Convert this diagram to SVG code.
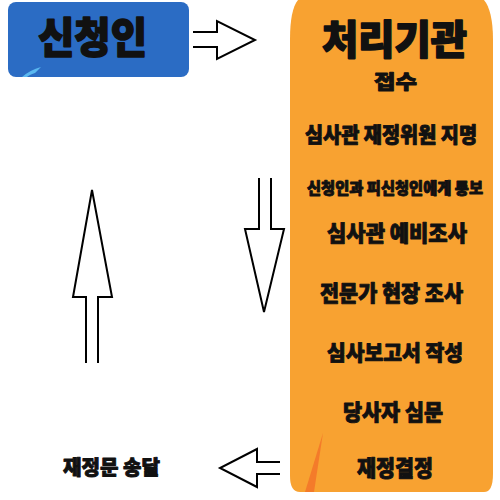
<svg xmlns="http://www.w3.org/2000/svg" width="500" height="500" viewBox="0 0 500 500">
<style>
.t{font-family:"Noto Sans CJK KR","Noto Sans",sans-serif;font-weight:900;fill:#111;stroke:#111;stroke-width:0.9;stroke-linejoin:round;text-anchor:middle}
.big{stroke-width:1.6}
.arr{fill:#fff;stroke:#000;stroke-width:2;stroke-linejoin:miter}
</style>
<rect width="500" height="500" fill="#fff"/>
<g id="applicant">
<rect x="8" y="2" width="181" height="75" rx="8" fill="#2b6cc4"/>
<path d="M22,77 Q30,70 41,67 L35,73 Q29,75 27,77 Z" fill="#5ab8f0"/>
<text class="t big" x="92.5" y="53" font-size="42" textLength="109" lengthAdjust="spacingAndGlyphs">신청인</text>
</g>
<g id="agency">
<path d="M300,492 Q290,492 290,476 L290,40 C290,18 293,4 300,-2 L482,-2 C489,4 493,18 493,40 L493,474 Q493,492 484,492 Z" fill="#f8a231"/>
<path d="M305,492 L323,433 L314,492 Z" fill="#f47b2a"/>
<text class="t big" x="394.5" y="54" font-size="40" textLength="145" lengthAdjust="spacingAndGlyphs">처리기관</text>
<text class="t" x="395.5" y="89" font-size="19" textLength="43" lengthAdjust="spacingAndGlyphs">접수</text>
<text class="t" x="391" y="142" font-size="21" textLength="172" lengthAdjust="spacingAndGlyphs">심사관 재정위원 지명</text>
<text class="t" x="395" y="194" font-size="16" textLength="176" lengthAdjust="spacingAndGlyphs">신청인과 피신청인에게 통보</text>
<text class="t" x="397" y="241" font-size="22" textLength="140" lengthAdjust="spacingAndGlyphs">심사관 예비조사</text>
<text class="t" x="391.5" y="301" font-size="22" textLength="143" lengthAdjust="spacingAndGlyphs">전문가 현장 조사</text>
<text class="t" x="395" y="360" font-size="21" textLength="136" lengthAdjust="spacingAndGlyphs">심사보고서 작성</text>
<text class="t" x="393" y="420" font-size="22" textLength="100" lengthAdjust="spacingAndGlyphs">당사자 심문</text>
<text class="t" x="395" y="476" font-size="22" textLength="76" lengthAdjust="spacingAndGlyphs">재정결정</text>
</g>
<g id="delivery">
<text class="t" x="111.5" y="475" font-size="20" textLength="97" lengthAdjust="spacingAndGlyphs">재정문 송달</text>
</g>
<g id="connectors">
<path class="arr" d="M193,32 H217 V21 L255,40 L217,59 V47 H193"/>
<path class="arr" d="M259,178 V229 H245 L264,312 L284,229 H271 V178"/>
<path class="arr" d="M86,363 V297 H73 L92,190 L112,297 H98 V363"/>
<path class="arr" d="M280,462 H257 V449 L220,468 L257,487 V474 H280"/>
</g>
</svg>
